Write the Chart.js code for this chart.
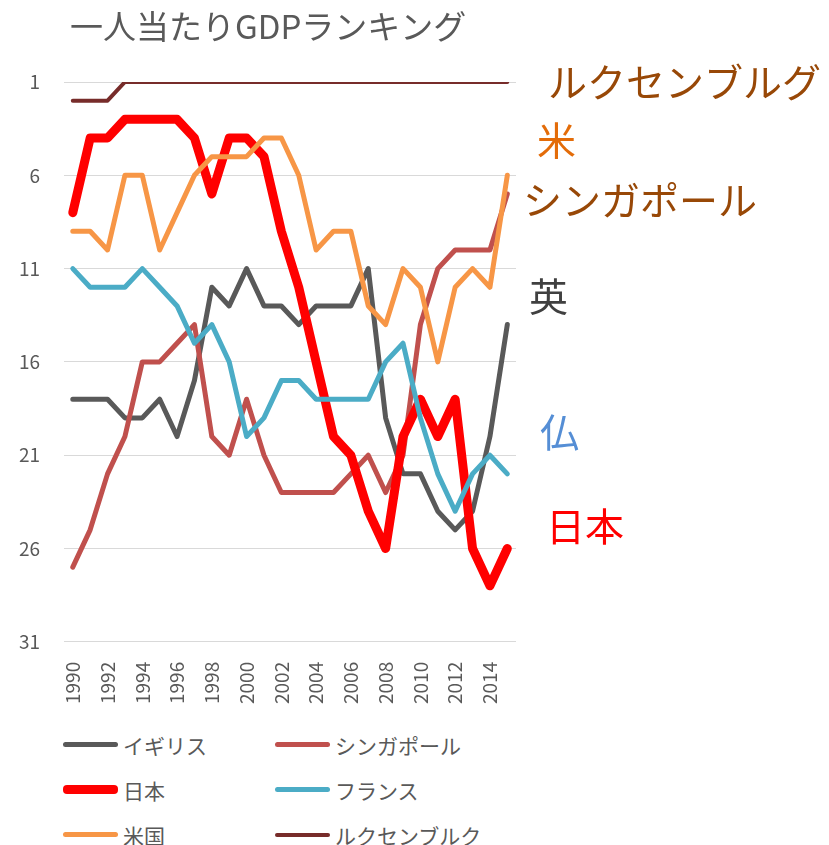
<!DOCTYPE html>
<html lang="ja">
<head>
<meta charset="utf-8">
<script src="https://cdn.jsdelivr.net/npm/chart.js@4.4.1/dist/chart.umd.min.js"></script>
<style>
    body { margin: 0; background: #fff; }
    #wrap { position: relative; width: 829px; height: 845px; overflow: hidden; }
    #chart { position: absolute; left: 0; top: 0; }
    #legend {
        position: absolute; left: 63px; top: 722px;
        display: grid; grid-template-columns: 212px 240px; grid-auto-rows: 45px;
        font-family: "Noto Sans CJK JP", sans-serif; font-size: 21px; color: #595959;
    }
    .item { display: flex; align-items: center; }
    .swatch { display: inline-block; width: 55px; border-radius: 4px; margin-right: 5px; }
</style>
</head>
<body>
<div id="wrap">
    <canvas id="chart" width="829" height="720"></canvas>
    <div id="legend"></div>
</div>
<script>
// 一人当たりGDP 順位 (1990-2015)
const years = ['1990','1991','1992','1993','1994','1995','1996','1997','1998','1999','2000','2001','2002',
               '2003','2004','2005','2006','2007','2008','2009','2010','2011','2012','2013','2014','2015'];
const yTicks = [1, 6, 11, 16, 21, 26, 31];

const seriesNames = ['イギリス', 'シンガポール', '日本', 'フランス', '米国', 'ルクセンブルク'];
const uk         = [18,18,18,19,19,18,20,17,12,13,11,13,13,14,13,13,13,11,19,22,22,24,25,24,20,14];
const singapore  = [27,25,22,20,16,16,15,14,20,21,18,21,23,23,23,23,22,21,23,21,14,11,10,10,10,7];
const japan      = [8,4,4,3,3,3,3,4,7,4,4,5,9,12,16,20,21,24,26,20,18,20,18,26,28,26];
const france     = [11,12,12,12,11,12,13,15,14,16,20,19,17,17,18,18,18,18,16,15,19,22,24,22,21,22];
const usa        = [9,9,10,6,6,10,8,6,5,5,5,4,4,6,10,9,9,13,14,11,12,16,12,11,12,6];
const luxembourg = [2,2,2,1,1,1,1,1,1,1,1,1,1,1,1,1,1,1,1,1,1,1,1,1,1,1];

const seriesData = [uk, singapore, japan, france, usa, luxembourg];
const colors = ['#595959', '#C0504D', '#FF0000', '#4BACC6', '#F79646', '#772C2A'];
const widths = [5, 5, 9, 5, 5, 4];

const FONT = '"Noto Sans CJK JP", sans-serif';

// labels written beside the lines
const notes = [
    { text: 'ルクセンブルグ', color: '#984807', x: 548, y: 82 },
    { text: '米', color: '#E36C09', x: 537, y: 140 },
    { text: 'シンガポール', color: '#984807', x: 523, y: 200 },
    { text: '英', color: '#404040', x: 529, y: 296 },
    { text: '仏', color: '#558ED5', x: 540, y: 432 },
    { text: '日本', color: '#FF0000', x: 546, y: 526 }
];

const textPlugin = {
    id: 'textPlugin',
    afterDraw(chart) {
        const ctx = chart.ctx;
        ctx.save();
        ctx.textBaseline = 'middle';
        ctx.textAlign = 'left';
        ctx.fillStyle = '#595959';
        ctx.font = '33px ' + FONT;
        ctx.fillText('一人当たりGDPランキング', 70, 26);
        ctx.font = '39px ' + FONT;
        notes.forEach(n => {
            ctx.fillStyle = n.color;
            ctx.fillText(n.text, n.x, n.y);
        });
        ctx.restore();
    }
};

const datasets = seriesData.map((d, i) => ({
    label: seriesNames[i],
    data: d,
    borderColor: colors[i],
    backgroundColor: colors[i],
    borderWidth: widths[i],
    pointRadius: 0,
    tension: 0,
    borderJoinStyle: 'round',
    borderCapStyle: 'round',
    order: seriesData.length - i   // later series on top, like the original
}));

new Chart(document.getElementById('chart'), {
    type: 'line',
    data: { labels: years, datasets: datasets },
    options: {
        responsive: false,
        animation: false,
        layout: { padding: { left: -5, top: 82, right: 313, bottom: 4 } },
        plugins: {
            legend: { display: false },
            tooltip: { enabled: false }
        },
        scales: {
            x: {
                offset: true,
                grid: { display: false },
                border: { display: false },
                ticks: {
                    autoSkip: false,
                    minRotation: 90,
                    maxRotation: 90,
                    padding: 12,
                    color: '#595959',
                    font: { family: FONT, size: 19 },
                    callback: (v, i) => (i % 2 === 0 ? years[i] : '')
                }
            },
            y: {
                reverse: true,
                min: 1,
                max: 31,
                afterBuildTicks: axis => { axis.ticks = yTicks.map(v => ({ value: v })); },
                grid: { color: '#D9D9D9', lineWidth: 1, drawTicks: false },
                border: { display: false },
                ticks: {
                    padding: 24,
                    color: '#595959',
                    font: { family: FONT, size: 19 }
                }
            }
        }
    },
    plugins: [textPlugin]
});

// legend in two columns
const legend = document.getElementById('legend');
const legendOrder = [0, 1, 2, 3, 4, 5];
legendOrder.forEach(i => {
    const item = document.createElement('div');
    item.className = 'item';
    item.innerHTML = `<span class="swatch" style="height:${widths[i]}px;background:${colors[i]}"></span>${seriesNames[i]}`;
    legend.appendChild(item);
});
</script>
</body>
</html>
